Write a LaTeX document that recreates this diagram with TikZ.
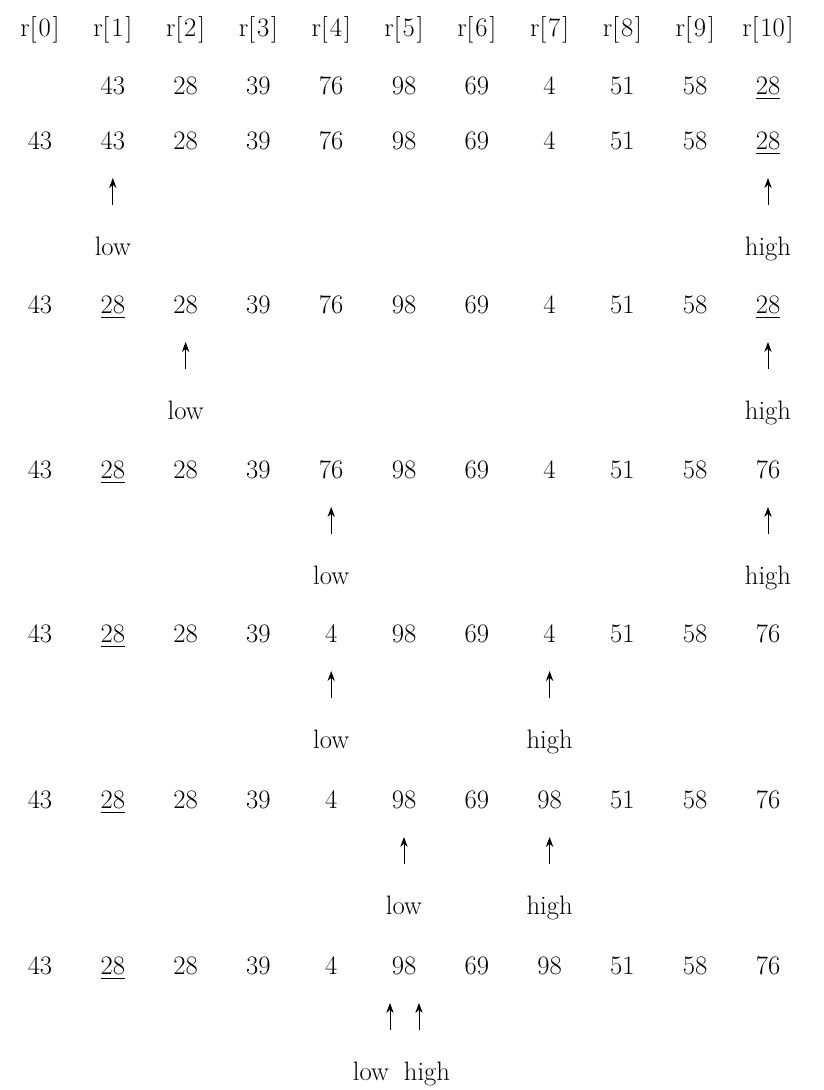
\documentclass[tikz,border=0pt]{standalone}
\usetikzlibrary{arrows.meta}
\newcommand\ulx[1]{\vtop{\hbox{#1}\kern2.5pt\hrule height 0.8pt}}
\begin{document}
\begin{tikzpicture}[x=0.75pt,y=-0.75pt,
  cell/.style={anchor=base,inner sep=0pt,font=\fontsize{20}{24}\selectfont},
  lbl/.style={anchor=base,inner sep=0pt,font=\fontsize{20}{24}\selectfont},
  arr/.style={-{Stealth[length=7.5pt,width=5.5pt]},line width=0.6pt}]
\useasboundingbox (0,0) rectangle (824,1090);
% header
\foreach \c in {0,...,10}{
  \node[cell] (h\c) at ({40+72.8*\c},36) {r[\kern1.5pt\c\kern1.5pt]};
}
% rows: name / y / values
\foreach \r/\y/\vals in {
  a/85/{ ,43,28,39,76,98,69,4,51,58,\ulx{28}},
  b/140/{43,43,28,39,76,98,69,4,51,58,\ulx{28}},
  c/304/{43,\ulx{28},28,39,76,98,69,4,51,58,\ulx{28}},
  d/469/{43,\ulx{28},28,39,76,98,69,4,51,58,76},
  e/633/{43,\ulx{28},28,39,4,98,69,4,51,58,76},
  f/799/{43,\ulx{28},28,39,4,98,69,98,51,58,76},
  g/965/{43,\ulx{28},28,39,4,98,69,98,51,58,76}}{
  \foreach \v [count=\i from 0] in \vals {
    \node[cell] (\r\i) at ({40+72.8*\i},\y+9) {\v};
  }
}
% arrows and labels
\foreach \r/\y/\lc/\hc in {b/140/1/10, c/304/2/10, d/469/4/10, e/633/4/7, f/799/5/7}{
  \coordinate (\r lt) at ({40+72.8*\lc},\y+38);
  \coordinate (\r lb) at ({40+72.8*\lc},\y+65);
  \coordinate (\r ht) at ({40+72.8*\hc},\y+38);
  \coordinate (\r hb) at ({40+72.8*\hc},\y+65);
  \draw[arr] (\r lb) -- (\r lt);
  \draw[arr] (\r hb) -- (\r ht);
  \node[lbl] (\r low) at ({40+72.8*\lc},\y+115) {low};
  \node[lbl] (\r high) at ({40+72.8*\hc},\y+115) {high};
}
\coordinate (glt) at (390,1003);
\coordinate (glb) at (390,1030);
\coordinate (ght) at (419,1003);
\coordinate (ghb) at (419,1030);
\draw[arr] (glb) -- (glt);
\draw[arr] (ghb) -- (ght);
\node[lbl] (glow) at (371,1080) {low};
\node[lbl] (ghigh) at (427,1080) {high};
\end{tikzpicture}
\end{document}
